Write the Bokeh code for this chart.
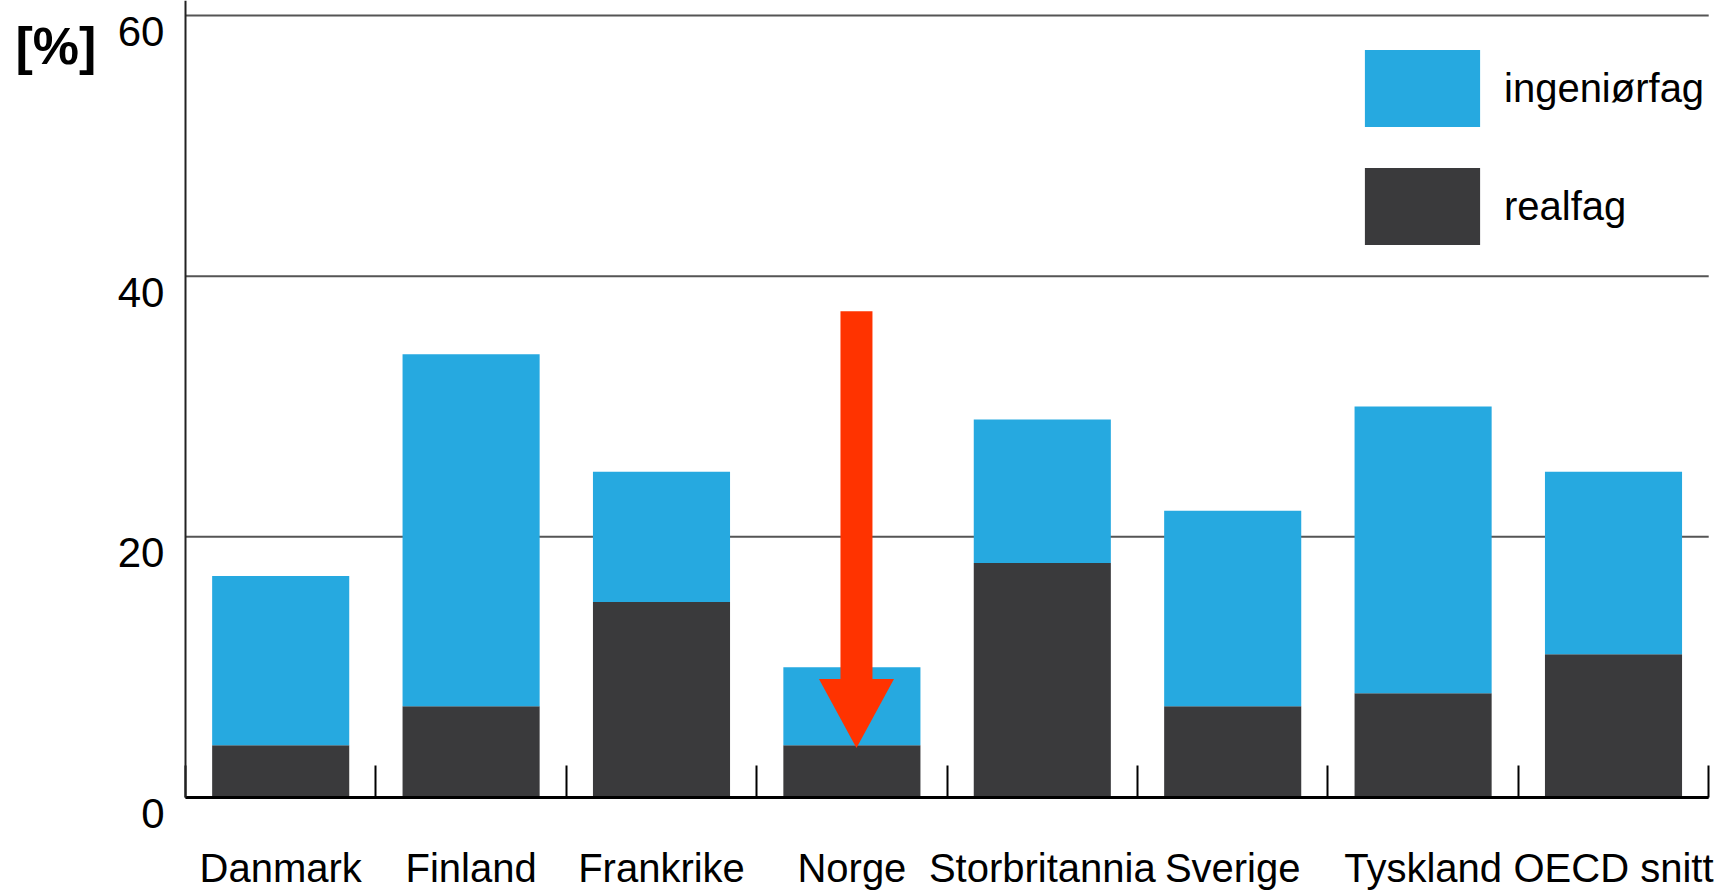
from bokeh.plotting import figure
from bokeh.models import (Range1d, FixedTicker, Label, Legend, LegendItem,
                          ColumnDataSource, LinearAxis)
from bokeh.embed import file_html
from bokeh.resources import INLINE

# ---- data ----
countries = ["Danmark", "Finland", "Frankrike", "Norge",
             "Storbritannia", "Sverige", "Tyskland", "OECD snitt"]
realfag = [4, 7, 15, 4, 18, 7, 8, 11]
ingeniorfag = [13, 27, 10, 6, 11, 15, 22, 14]
series_names = ["ingeniørfag", "realfag"]
y_ticks = [0, 20, 40, 60]
y_tick_labels = ["0", "20", "40", "60"]
unit_label = "[%]"
# red arrow pointing at Norge (data units)
arrow_x = 3.524
arrow_top = 37.3
arrow_head_base = 9.1
arrow_tip = 3.8

# ---- style ----
BLUE = "#26a9e0"
DARK = "#3a3a3c"
RED = "#ff3300"
GRID = "#555555"
FONT = "Liberation Sans"
shaft_hw = 0.084
head_hw = 0.197
label_shift = 1.23   # y tick labels sit a little below their grid line

n = len(countries)
xs = [i + 0.5 for i in range(n)]
source = ColumnDataSource(dict(x=xs, realfag=realfag, ingeniorfag=ingeniorfag))

# view window (frame covers the whole canvas; axes pinned at 0)
x_lo, x_hi = -0.9716, 8.0462
y_lo, y_hi = -7.596, 61.152

p = figure(width=1717, height=896,
           x_range=Range1d(x_lo, x_hi), y_range=Range1d(y_lo, y_hi),
           output_backend="svg", toolbar_location=None,
           min_border_left=0, min_border_right=0,
           min_border_top=0, min_border_bottom=0)
p.outline_line_color = None
p.background_fill_color = "white"
p.border_fill_color = "white"
p.xgrid.visible = False
p.ygrid.visible = False

# horizontal grid lines from the y ticks, from the axis to the last category
grid_src = ColumnDataSource(dict(y=y_ticks, x0=[0] * len(y_ticks), x1=[n] * len(y_ticks)))
p.segment(x0="x0", x1="x1", y0="y", y1="y", source=grid_src,
          line_color=GRID, line_width=2, level="underlay")

rs = p.vbar_stack(["realfag", "ingeniorfag"], x="x", width=0.72,
                  fill_color=[DARK, BLUE], line_color=None, source=source)

# arrow
p.quad(left=[arrow_x - shaft_hw], right=[arrow_x + shaft_hw],
       bottom=[arrow_head_base - 0.3], top=[arrow_top],
       fill_color=RED, line_color=None)
p.patch(x=[arrow_x - head_hw, arrow_x + head_hw, arrow_x],
        y=[arrow_head_base, arrow_head_base, arrow_tip],
        fill_color=RED, line_color=None)

# x axis pinned at y = 0
xa = p.xaxis[0]
xa.fixed_location = 0
xa.bounds = (0, n)
xa.ticker = FixedTicker(ticks=xs, minor_ticks=list(range(0, n + 1)))
xa.major_label_overrides = {xx: c for xx, c in zip(xs, countries)}
xa.major_tick_line_color = None
xa.major_tick_in = 0
xa.major_tick_out = 0
xa.minor_tick_in = 32
xa.minor_tick_out = 0
xa.minor_tick_line_color = "black"
xa.minor_tick_line_width = 2
xa.axis_line_color = "black"
xa.axis_line_width = 3
xa.major_label_text_font = FONT
xa.major_label_text_font_size = "40px"
xa.major_label_text_color = "black"
xa.major_label_standoff = 48

# y axis line pinned at x = 0
ya = p.yaxis[0]
ya.fixed_location = 0
ya.bounds = (0, y_hi)
ya.ticker = FixedTicker(ticks=[])
ya.major_tick_line_color = None
ya.minor_tick_line_color = None
ya.axis_line_color = "#222222"
ya.axis_line_width = 2

# y tick labels: a second axis whose range is shifted so labels sit under their lines
p.extra_y_ranges = {"lab": Range1d(y_lo + label_shift, y_hi + label_shift)}
yl = LinearAxis(y_range_name="lab", fixed_location=0,
                ticker=FixedTicker(ticks=y_ticks),
                major_label_overrides={t: s for t, s in zip(y_ticks, y_tick_labels)},
                axis_line_color=None, major_tick_line_color=None,
                minor_tick_line_color=None, major_tick_in=0, major_tick_out=0,
                major_label_standoff=21,
                major_label_text_font=FONT, major_label_text_font_size="42px",
                major_label_text_color="black")
p.add_layout(yl, "left")

p.add_layout(Label(x=-0.893, y=57.65, text=unit_label, text_align="left",
                   text_baseline="alphabetic", text_font=FONT,
                   text_font_style="bold", text_font_size="52px",
                   text_color="black"))

legend = Legend(items=[LegendItem(label=series_names[0], renderers=[rs[1]]),
                       LegendItem(label=series_names[1], renderers=[rs[0]])],
                location=(1350, 642), orientation="vertical",
                glyph_width=144, glyph_height=96, spacing=22,
                label_standoff=10, padding=0, margin=0,
                border_line_color=None, background_fill_alpha=0,
                label_text_font=FONT, label_text_font_size="40px",
                label_text_color="black")
p.add_layout(legend)

open("out.html", "w").write(file_html(p, INLINE))
